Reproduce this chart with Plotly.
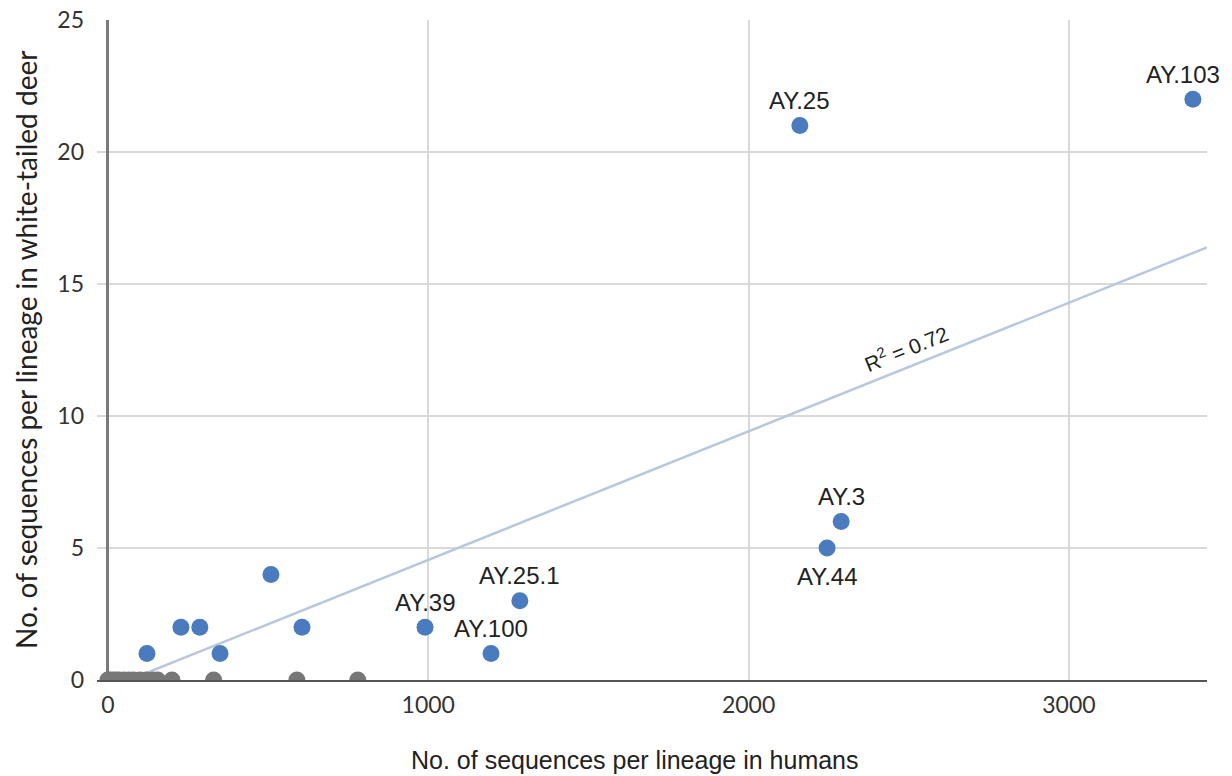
import plotly.graph_objects as go

# ---- data ----
blue_x = [122, 228, 287, 350, 509, 606, 990, 1196, 1286, 2160, 2245, 2289, 3387]
blue_y = [1, 2, 2, 1, 4, 2, 2, 1, 3, 21, 5, 6, 22]
blue_labels = ["", "", "", "", "", "", "AY.39", "AY.100", "AY.25.1", "AY.25", "AY.44", "AY.3", "AY.103"]
label_below = [False] * 10 + [True, False, False]

gray_x = [0, 5, 15, 25, 35, 50, 65, 80, 100, 120, 140, 155, 200, 330, 590, 780]
gray_y = [0] * len(gray_x)

trend_slope = 0.00487
trend_intercept = -0.32
r2_text = "R<sup>2</sup> = 0.72"

x_ticks = [0, 1000, 2000, 3000]
y_ticks = [0, 5, 10, 15, 20, 25]
x_range = [-34, 3431]
y_range = [0, 25]

x_title = "No. of sequences per lineage in humans"
y_title = "No. of sequences per lineage in white-tailed deer"

# ---- figure ----
fig = go.Figure()

trend_x = [-trend_intercept / trend_slope, x_range[1]]
trend_y = [trend_slope * v + trend_intercept for v in trend_x]
fig.add_trace(go.Scatter(
    x=trend_x, y=trend_y, mode="lines",
    line=dict(color="#b7c8de", width=2.5),
    hoverinfo="skip", showlegend=False,
))

fig.add_trace(go.Scatter(
    x=gray_x, y=gray_y, mode="markers",
    marker=dict(color="#777777", size=17, line=dict(width=0)),
    cliponaxis=True, showlegend=False,
))

fig.add_trace(go.Scatter(
    x=blue_x, y=blue_y, mode="markers",
    marker=dict(color="#4a7bbf", size=17, line=dict(width=0)),
    cliponaxis=False, showlegend=False,
))

# point labels (Sheets-style: above the dot, or below when crowded; kept inside the chart)
label_font = dict(family="Liberation Sans, Arial", size=24, color="#222222")
for xv, yv, lab, below in zip(blue_x, blue_y, blue_labels, label_below):
    if not lab:
        continue
    xs = 0
    if xv > 3300:
        xs = -10
    fig.add_annotation(
        x=xv, y=yv, text=lab, showarrow=False,
        xanchor="center", yanchor="middle",
        xshift=xs, yshift=(-28 if below else 25),
        font=label_font,
    )

r2_x = 2491
fig.add_annotation(
    x=r2_x, y=trend_slope * r2_x + trend_intercept, yshift=20,
    text=r2_text, showarrow=False, textangle=-22,
    font=dict(family="Liberation Sans, Arial", size=21, color="#222222"),
)

# axis titles
fig.add_annotation(
    xref="paper", yref="paper", x=0.5, y=0, yshift=-80, xshift=-17,
    xanchor="center", yanchor="middle",
    text=x_title, showarrow=False,
    font=dict(family="Liberation Sans, Arial", size=25, color="#222222"),
)
fig.add_annotation(
    xref="paper", yref="paper", x=0, y=0.5, xshift=-71,
    xanchor="center", yanchor="middle", textangle=-90,
    text=y_title, showarrow=False,
    font=dict(family="Lato", size=28, color="#222222"),
)

tick_font = dict(family="Lato", size=23, color="#333333")

# the page body has an 8px default margin; the figure is sized so it ends at the window edges
fig.update_layout(
    width=1224, height=768,
    margin=dict(l=89, r=25, t=12, b=96),
    paper_bgcolor="white", plot_bgcolor="white",
    xaxis=dict(
        range=x_range, tickvals=x_ticks, ticktext=[str(v) for v in x_ticks],
        showgrid=True, gridcolor="#d9d9d9", gridwidth=1.5,
        zeroline=True, zerolinecolor="#7a7a7a", zerolinewidth=2.5,
        showline=True, linecolor="#555555", linewidth=2,
        tickfont=tick_font, ticklabelstandoff=3, ticklabeloverflow="allow",
        automargin=False,
    ),
    yaxis=dict(
        range=y_range, tickvals=y_ticks,
        showgrid=True, gridcolor="#d9d9d9", gridwidth=1.5,
        zeroline=False, showline=False,
        tickfont=tick_font, ticklabelstandoff=12, ticklabeloverflow="allow",
        automargin=False,
    ),
)

fig.write_html("out.html")
